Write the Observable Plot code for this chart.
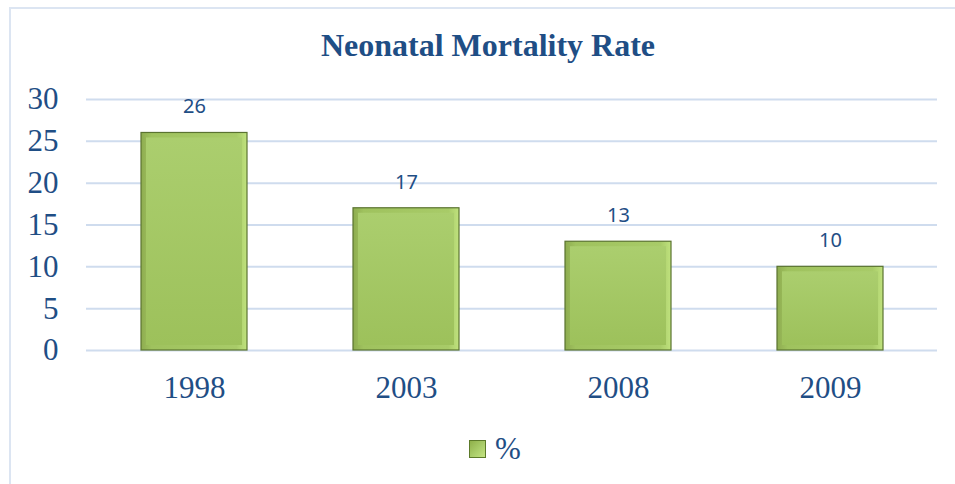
<!DOCTYPE html>
<html><head><meta charset="utf-8">
<script src="https://cdn.jsdelivr.net/npm/d3@7"></script>
<script src="https://cdn.jsdelivr.net/npm/@observablehq/plot@0.6"></script>
<style>
body{margin:0;background:#fff;}
#wrap{position:relative;width:955px;height:484px;overflow:hidden;}
#frame{position:absolute;left:9px;top:7px;width:960px;height:490px;border:2px solid #dce5f2;box-sizing:border-box;}
#title{position:absolute;left:0;width:976px;top:27px;text-align:center;font:bold 32px "Liberation Serif","Times New Roman",serif;color:#1f4e85;}
#chart{position:absolute;left:0;top:70px;}
#legend{position:absolute;left:469px;top:431px;font:31px "Liberation Serif",serif;color:#1f4e85;display:flex;align-items:center;}
#legend .sw{width:15px;height:16px;border:1px solid #5c7a2a;background:linear-gradient(135deg,#8fb04a 0%,#a8cb68 50%,#c4e482 100%);margin-right:9px;}
</style></head>
<body>
<div id="wrap">
<div id="frame"></div>
<div id="title">Neonatal Mortality Rate</div>
<div id="chart"></div>
<div id="legend"><div class="sw"></div><span>%</span></div>
</div>
<script>
const years = ["1998","2003","2008","2009"];
const values = [26,17,13,10];
const yTicks = [0,5,10,15,20,25,30];
const data = years.map((y,i)=>({year:y,value:values[i]}));

const plot = Plot.plot({
  width:955, height:350,
  marginTop:29, marginBottom:70, marginLeft:86, marginRight:18,
  x:{domain:years, paddingInner:0.5, paddingOuter:0.25, label:null},
  y:{domain:[0,30], label:null},
  style:{background:"transparent"},
  marks:[
    Plot.ruleY(yTicks,{stroke:"#cfdcee",strokeWidth:2}),
    Plot.axisY({ticks:yTicks, tickSize:0, tickPadding:28, fontSize:31, fontFamily:"Liberation Serif, Times New Roman, serif", fill:"#1f4e85", label:null}),
    Plot.axisX({tickSize:0, tickPadding:25, fontSize:31, fontFamily:"Liberation Serif, Times New Roman, serif", fill:"#1f4e85", label:null}),
    Plot.barY(data,{x:"year",y:"value",fill:"url(#outerG)",stroke:"#5a7330",strokeWidth:1.2}),
    Plot.barY(data,{x:"year",y:"value",fill:"url(#innerG)",insetTop:5,insetBottom:5,insetLeft:5,insetRight:5}),
    Plot.text(data,{x:"year",y:"value",text:d=>String(d.value),dy:-26,fontSize:20,fontFamily:"Noto Sans, Liberation Sans, sans-serif",fill:"#1f4e85"})
  ]
});
const svg = d3.select(plot);
const defs = svg.insert("defs",":first-child");
const og = defs.append("linearGradient").attr("id","outerG").attr("x1","0").attr("y1","0").attr("x2","1").attr("y2","0");
og.append("stop").attr("offset","0%").attr("stop-color","#8eac50");
og.append("stop").attr("offset","10%").attr("stop-color","#9fc25e");
og.append("stop").attr("offset","90%").attr("stop-color","#a8cb68");
og.append("stop").attr("offset","100%").attr("stop-color","#c0e27e");
const ig = defs.append("linearGradient").attr("id","innerG").attr("x1","0").attr("y1","0").attr("x2","0").attr("y2","1");
ig.append("stop").attr("offset","0%").attr("stop-color","#abce6e");
ig.append("stop").attr("offset","100%").attr("stop-color","#9dc15b");
document.getElementById("chart").appendChild(plot);
</script>
</body></html>
